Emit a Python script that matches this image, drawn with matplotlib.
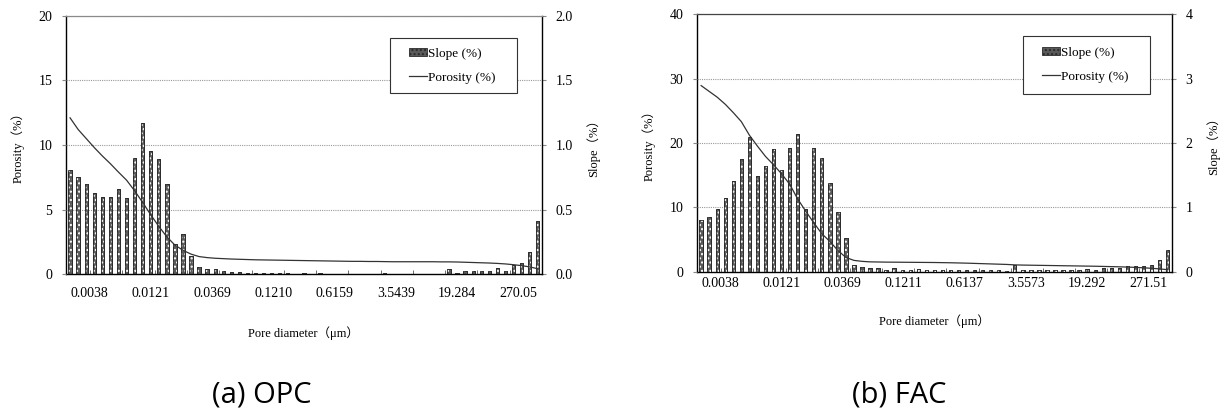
import matplotlib
matplotlib.use("Agg")
import matplotlib.pyplot as plt
import numpy as np
from matplotlib.patches import Patch, Rectangle
from matplotlib.lines import Line2D

SERIF = ["Liberation Serif", "Noto Sans CJK SC"]
plt.rcParams["font.family"] = SERIF

# slope (%) per diameter class and cumulative porosity (%), 59 classes each
opc_slope = [0.81, 0.75, 0.70, 0.63, 0.60, 0.60, 0.66, 0.59, 0.90, 1.17,
             0.95, 0.89, 0.70, 0.23, 0.31, 0.14, 0.057, 0.036, 0.036, 0.022,
             0.014, 0.014, 0.011, 0.007, 0.012, 0.005, 0.005, 0.005, 0.004, 0.011,
             0.004, 0.012, 0.004, 0.004, 0.004, 0.004, 0.004, 0.004, 0.004, 0.006,
             0.004, 0.004, 0.004, 0.004, 0.004, 0.004, 0.004, 0.036, 0.008, 0.028,
             0.028, 0.028, 0.028, 0.044, 0.023, 0.072, 0.083, 0.17, 0.41]
opc_porosity = [12.1, 11.2, 10.5, 9.8, 9.15, 8.55, 7.9, 7.28, 6.46, 5.55,
                4.6, 3.7, 2.89, 2.25, 1.85, 1.55, 1.36, 1.28, 1.23, 1.20,
                1.17, 1.15, 1.13, 1.11, 1.10, 1.09, 1.08, 1.07, 1.06, 1.05,
                1.04, 1.03, 1.02, 1.01, 1.00, 0.99, 0.99, 0.98, 0.98, 0.97,
                0.96, 0.96, 0.96, 0.96, 0.96, 0.96, 0.95, 0.95, 0.94, 0.92,
                0.90, 0.88, 0.86, 0.83, 0.79, 0.73, 0.66, 0.56, 0.42]
opc_labels = ["0.0038", "0.0121", "0.0369", "0.1210", "0.6159", "3.5439", "19.284", "270.05"]

fac_slope = [0.80, 0.85, 0.97, 1.15, 1.41, 1.75, 2.09, 1.48, 1.64, 1.91,
             1.58, 1.92, 2.14, 0.97, 1.92, 1.76, 1.38, 0.93, 0.52, 0.10,
             0.07, 0.06, 0.05, 0.03, 0.05, 0.03, 0.03, 0.04, 0.03, 0.03,
             0.03, 0.03, 0.03, 0.02, 0.03, 0.02, 0.02, 0.02, 0.01, 0.11,
             0.02, 0.02, 0.03, 0.02, 0.02, 0.03, 0.02, 0.03, 0.04, 0.03,
             0.05, 0.06, 0.06, 0.08, 0.08, 0.09, 0.10, 0.18, 0.34]
fac_porosity = [28.9, 28.0, 27.1, 26.0, 24.7, 23.3, 21.2, 19.5, 17.9, 16.6,
                15.2, 13.6, 11.3, 9.4, 7.6, 5.9, 4.7, 3.3, 2.2, 1.75,
                1.60, 1.52, 1.50, 1.48, 1.47, 1.46, 1.45, 1.44, 1.43, 1.42,
                1.40, 1.38, 1.35, 1.32, 1.28, 1.24, 1.20, 1.16, 1.12, 1.05,
                1.02, 1.00, 0.98, 0.96, 0.94, 0.92, 0.90, 0.88, 0.86, 0.84,
                0.81, 0.78, 0.75, 0.71, 0.66, 0.60, 0.52, 0.43, 0.30]
fac_labels = ["0.0038", "0.0121", "0.0369", "0.1211", "0.6137", "3.5573", "19.292", "271.51"]

BAR_FACE = "#5a5a5a"
BAR_EDGE = "#2a2a2a"
LINE_COLOR = "#333333"
GRID_COLOR = "#9a9a9a"


def draw_panel(rect, slope, porosity, labels, por_max, slope_max, slope_fmt, por_step,
               legend_box, xpad, xlabelpad, top_style):
    n = len(slope)
    x = np.arange(n)
    ax = fig.add_axes(rect)
    lx = ax.twinx()

    # bars carry the slope values on the right-hand scale
    ax.bar(x, slope, width=0.42, color=BAR_FACE, edgecolor=BAR_EDGE, linewidth=0.6, zorder=2)
    ax.bar(x, slope, width=0.42, facecolor="none", edgecolor="white", hatch="....",
           linewidth=0, zorder=3)
    ax.bar(x, slope, width=0.42, facecolor="none", edgecolor=BAR_EDGE, linewidth=0.6, zorder=4)
    ax.set_xlim(-0.5, n - 0.5)
    ax.set_ylim(0, slope_max)
    sticks = np.linspace(0, slope_max, 5)
    ax.set_yticks(sticks)
    ax.set_yticklabels([slope_fmt.format(v) for v in sticks])
    ax.yaxis.tick_right()
    ax.yaxis.set_label_position("right")
    ax.set_ylabel("Slope（%）", fontsize=9, labelpad=10)
    ax.yaxis.grid(True, color=GRID_COLOR, linestyle=(0, (1, 1)), linewidth=0.8)
    ax.set_axisbelow(True)

    # diameter labels spread evenly from the third class, small inner ticks every fourth
    ax.set_xticks(np.linspace(2.4, n - 3.4, len(labels)))
    ax.set_xticklabels(labels, fontsize=10)
    ax.set_xticks(np.arange(3, n, 4) - 0.5, minor=True)
    ax.tick_params(axis="x", which="major", length=0, pad=xpad)
    ax.tick_params(axis="x", which="minor", direction="in", length=3, width=0.6, color="#555555")
    ax.tick_params(axis="y", length=3, color="#888888", labelsize=10, pad=7)
    ax.set_xlabel("Pore diameter（μm）", fontsize=9, labelpad=xlabelpad)

    for side in ["left", "right", "bottom"]:
        ax.spines[side].set_color("black")
        ax.spines[side].set_linewidth(1.0)
    ax.spines["top"].set_color(top_style[0])
    ax.spines["top"].set_linestyle(top_style[1])
    ax.spines["top"].set_linewidth(0.9)

    # cumulative porosity curve on the left-hand scale
    lx.plot(x, porosity, color=LINE_COLOR, linewidth=0.9, zorder=5)
    lx.set_ylim(0, por_max)
    lx.set_yticks(np.arange(0, por_max + 1, por_step))
    lx.yaxis.tick_left()
    lx.yaxis.set_label_position("left")
    lx.set_ylabel("Porosity（%）", fontsize=9, labelpad=10)
    lx.tick_params(axis="y", length=3, color="#888888", labelsize=10, pad=7)
    for s in lx.spines.values():
        s.set_visible(False)

    x0, y0, x1, y1 = legend_box
    lx.add_patch(Rectangle((x0, y0), x1 - x0, y1 - y0, transform=lx.transAxes,
                           facecolor="white", edgecolor="#333333", linewidth=0.8, zorder=9))
    handles = [Patch(facecolor=BAR_FACE, edgecolor=BAR_EDGE, hatch="....", linewidth=0.6),
               Line2D([], [], color=LINE_COLOR, linewidth=0.9)]
    leg = lx.legend(handles, ["Slope (%)", "Porosity (%)"], loc="center left",
                    bbox_to_anchor=(x0 + 0.04, (y0 + y1) / 2), fontsize=9.5, frameon=False,
                    borderpad=0, labelspacing=0.9, handlelength=1.4, handleheight=0.6,
                    handletextpad=0.1, borderaxespad=0)
    leg.set_zorder(10)
    return ax


fig = plt.figure(figsize=(12.23, 4.16), dpi=100)

draw_panel([0.054, 0.341, 0.389, 0.621], opc_slope, opc_porosity, opc_labels,
           20, 2.0, "{:.1f}", 5, (0.68, 0.70, 0.948, 0.914), 9, 19,
           ("#8a8a8a", (0, (1, 1))))
draw_panel([0.570, 0.347, 0.388, 0.619], fac_slope, fac_porosity, fac_labels,
           40, 4, "{:.0f}", 10, (0.686, 0.69, 0.954, 0.916), 4, 17,
           ("#444444", "-"))

fig.text(0.214, 0.05, "(a) OPC", fontsize=21, family=["Open Sans", "DejaVu Sans"], ha="center", va="center")
fig.text(0.735, 0.05, "(b) FAC", fontsize=21, family=["Open Sans", "DejaVu Sans"], ha="center", va="center")

fig.savefig("out.png", dpi=100)
